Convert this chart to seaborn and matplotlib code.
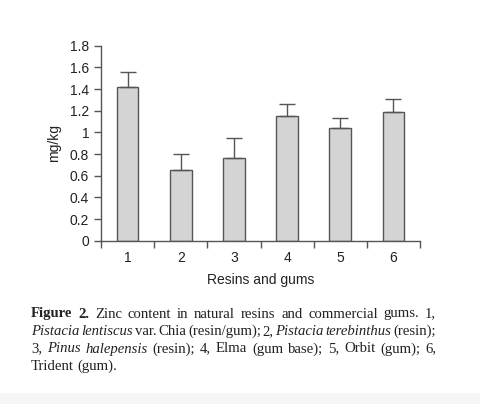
import matplotlib
matplotlib.use("Agg")
import matplotlib.pyplot as plt
import seaborn as sns
import pandas as pd
from matplotlib.patches import Rectangle

# ---- data ----
categories = ["1", "2", "3", "4", "5", "6"]
means = [1.42, 0.65, 0.76, 1.15, 1.04, 1.19]
errors = [0.14, 0.15, 0.185, 0.11, 0.09, 0.12]
y_ticks = [0, 0.2, 0.4, 0.6, 0.8, 1.0, 1.2, 1.4, 1.6, 1.8]
y_tick_labels = ["0", "0.2", "0.4", "0.6", "0.8", "1", "1.2", "1.4", "1.6", "1.8"]
x_label = "Resins and gums"
y_label = "mg/kg"

caption_lines = [
    [("Figure 2.", "bold"), ("Zinc content in natural resins and commercial gums. 1,", "normal")],
    [("Pistacia lentiscus", "italic"), ("var. Chia (resin/gum); 2,", "normal"),
     ("Pistacia terebinthus", "italic"), ("(resin);", "normal")],
    [("3,", "normal"), ("Pinus halepensis", "italic"),
     ("(resin); 4, Elma (gum base); 5, Orbit (gum); 6,", "normal")],
    [("Trident (gum).", "normal")],
]

df = pd.DataFrame({"cat": categories, "val": means})

W, H = 480, 404
sns.set_theme(style="ticks")
plt.rcParams["font.family"] = ["Liberation Sans", "DejaVu Sans"]

fig = plt.figure(figsize=(W / 100, H / 100), dpi=100)
fig.patch.set_facecolor("white")
ax = fig.add_axes([101 / W, 1 - 240.7 / H, (420 - 101) / W, (240.7 - 45.7) / H])

edge = "#555555"
txtc = "#222222"
sns.barplot(data=df, x="cat", y="val", color="#d4d4d4", saturation=1,
            errorbar=None, width=0.41, edgecolor=edge, linewidth=1.0, ax=ax)
ax.errorbar(range(len(means)), means, yerr=[[0] * len(means), errors],
            fmt="none", ecolor=edge, elinewidth=1.0, capsize=6, capthick=1.0, zorder=1)

ax.set_xlim(-0.5, len(categories) - 0.5)
ax.set_ylim(0, 1.8)
ax.set_yticks(y_ticks)
ax.set_yticklabels(y_tick_labels)
ax.set_xticks([i - 0.5 for i in range(len(categories) + 1)])
ax.set_xticklabels([])
ax.set_xticks(range(len(categories)), minor=True)
ax.set_xticklabels(categories, minor=True)
ax.tick_params(axis="x", which="minor", length=0, pad=7.5, labelsize=10, colors=txtc)
ax.tick_params(axis="x", which="major", length=5, width=1, color=edge)
ax.tick_params(axis="y", length=5, width=1, color=edge, labelsize=10, labelcolor=txtc, pad=3.5)
for s in ["top", "right"]:
    ax.spines[s].set_visible(False)
for s in ["left", "bottom"]:
    ax.spines[s].set_color(edge)
    ax.spines[s].set_linewidth(1.0)
ax.set_xlabel(x_label, fontsize=10, color=txtc, labelpad=6)
ax.set_ylabel(y_label, fontsize=10, color=txtc, labelpad=6)
ax.set_facecolor("white")

# bottom light band
fig.add_artist(Rectangle((0, 0), 1, 11 / H, transform=fig.transFigure,
                         facecolor="#f6f6f6", edgecolor="none", zorder=0))

# ---- caption, justified ----
serif = ["Liberation Serif", "DejaVu Serif"]
fsize = 10.6
left_px, right_px = 31, 436
baselines = [317.5, 335, 352.5, 369.5]
renderer = fig.canvas.get_renderer()

for li, (line, base) in enumerate(zip(caption_lines, baselines)):
    words = []
    for txt, sty in line:
        for w in txt.split(" "):
            words.append((w, sty))
    arts = []
    total = 0
    for w, sty in words:
        kw = dict(family=serif, fontsize=fsize, color=txtc)
        if sty == "bold":
            kw["fontweight"] = "bold"
        if sty == "italic":
            kw["fontstyle"] = "italic"
        t = fig.text(0, 1 - base / H, w, va="baseline", ha="left", **kw)
        wpx = t.get_window_extent(renderer).width
        arts.append((t, wpx))
        total += wpx
    justify = li < len(caption_lines) - 1
    if justify and len(arts) > 1:
        gap = (right_px - left_px - total) / (len(arts) - 1)
    else:
        gap = fsize * 100 / 72 * 0.25
    x = left_px
    for t, wpx in arts:
        t.set_x(x / W)
        x += wpx + gap

fig.savefig("out.png", dpi=100)
